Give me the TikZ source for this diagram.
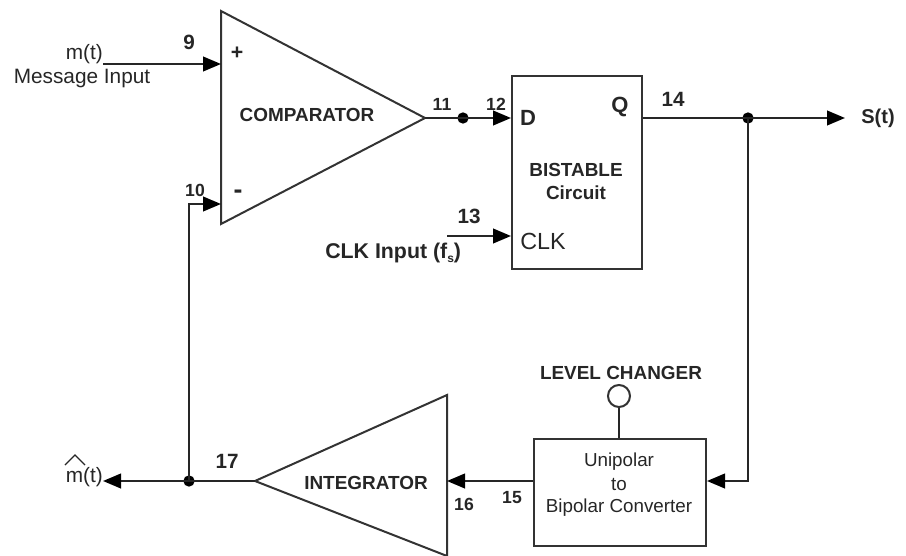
\documentclass[tikz,border=0pt]{standalone}
\usepackage{fontspec}
\setmainfont{Liberation Sans}
\usetikzlibrary{arrows.meta}
\newcommand{\fsz}[1]{\fontsize{#1pt}{#1pt}\selectfont}
\tikzset{
  x=0.75pt,y=-0.75pt,
  wire/.style={draw=black!85,line width=1.5pt},
  arr/.style={wire,-{Triangle[length=13.5pt,width=11pt,fill=black,color=black]}},
  blk/.style={draw=black!80,line width=1.5pt,fill=none},
  dotn/.style={circle,fill=black,inner sep=0pt,minimum size=8.5pt},
  lab/.style={inner sep=0pt,font=\fsz{15.6},text=black!85},
  blab/.style={inner sep=0pt,font=\fsz{14.2}\bfseries,text=black!85},
  reg/.style={inner sep=0pt,font=\fsz{14.1},text=black!85},
  numA/.style={inner sep=0pt,font=\fsz{15.5}\bfseries,text=black!85},
  numB/.style={inner sep=0pt,font=\fsz{13.2}\bfseries,text=black!85},
  pin/.style={inner sep=0pt,font=\fsz{16.5}\bfseries,text=black!85}
}
\begin{document}
\begin{tikzpicture}
\useasboundingbox (0,0) rectangle (906,556);
% anchors
\coordinate (cA) at (221,11); \coordinate (cB) at (221,224); \coordinate (cO) at (425,118);
\coordinate (cP) at (221,64); \coordinate (cN) at (221,204);
\coordinate (iA) at (255,481); \coordinate (iB) at (447,395); \coordinate (iC) at (447,556);
\coordinate (iI) at (447,481);
\node[blk,minimum width=130*0.75pt,minimum height=193*0.75pt,inner sep=0pt,anchor=north west] (bist) at (511,75) {};
\node[blk,minimum width=172*0.75pt,minimum height=107*0.75pt,inner sep=0pt,anchor=north west] (conv) at (533,438) {};
\node[circle,draw=black!80,line width=1.5pt,minimum size=22*0.75pt,inner sep=0pt] (lvl) at (619,396) {};
\draw[blk,line join=miter] (cA)--(cO)--(cB)--cycle;
\draw[blk,line join=miter] (iB)--(iA)--(iC)--cycle;
% dots
\node[dotn] (d1) at (463,118) {};
\node[dotn] (d2) at (748,118) {};
\node[dotn] (d3) at (189,481) {};
\coordinate (mIn) at (103,64);
\coordinate (clkIn) at (447,236);
\coordinate (sOut) at (845,118);
\coordinate (mOut) at (103,481);
\coordinate (c1) at (748,481);
\coordinate (c2) at (189,204);
% connectors
\draw[arr] (mIn)--(cP);
\draw[arr] (d3.center)--(c2)--(cN);
\draw[wire] (cO)--(d1.center);
\draw[arr] (d1.center)--(bist.west|-d1);
\draw[arr] (clkIn)--(bist.west|-clkIn);
\draw[arr] (bist.east|-d2)--(sOut);
\draw[arr] (d2.center)--(c1)--(conv.east|-c1);
\draw[arr] (conv.west|-iI)--(iI);
\draw[arr] (iA)--(mOut);
\draw[wire] (lvl.south)--(conv.north-|lvl);
% labels
\node[lab,anchor=east] (t1) at (103,54) {m(t)};
\node[lab] (t2) at (82,79) {Message Input};
\node[numA] (n9) at (189,42) {9};
\node[inner sep=0pt,font=\fsz{16}\bfseries,text=black!85] (plus) at (237,53) {+};
\node[inner sep=0pt,font=\fsz{20}\bfseries,text=black!85] (minus) at (238,194) {-};
\node[numB] (n10) at (195,190) {10};
\node[blab] (comp) at (307,115) {COMPARATOR};
\node[numB] (n11) at (442,104) {11};
\node[numB] (n12) at (496,104) {12};
\node[pin] (tD) at (528,118) {D};
\node[pin] (tQ) at (620,107) {Q};
\node[numA] (n14) at (673,99) {14};
\node[blab] (b1) at (576,170) {BISTABLE};
\node[blab] (b2) at (576,193) {Circuit};
\node[numA] (n13) at (469,216) {13};
\node[inner sep=0pt,font=\fsz{17.5},text=black!85] (tC) at (543,241) {CLK};
\node[inner sep=0pt,font=\fsz{16}\bfseries,text=black!85,anchor=base west] (tI) at (325,258) {CLK Input (f\raisebox{-3pt}{\fsz{9}s})};
\node[inner sep=0pt,font=\fsz{15}\bfseries,text=black!85] (tS) at (878,118) {S(t)};
\node[blab] (lc) at (621,373) {LEVEL CHANGER};
\node[reg] (u1) at (619,462) {Unipolar};
\node[reg] (u2) at (619,485) {to};
\node[reg] (u3) at (619,508) {Bipolar Converter};
\node[blab] (intg) at (366,483) {INTEGRATOR};
\node[numA] (n17) at (227,461) {17};
\node[numB] (n16) at (464,504) {16};
\node[numB] (n15) at (512,498) {15};
\node[lab,anchor=east] (mh) at (103,477) {m(t)};
\draw[black!85,line width=1pt] (65,465)--(75,455)--(85,465);
\end{tikzpicture}
\end{document}
